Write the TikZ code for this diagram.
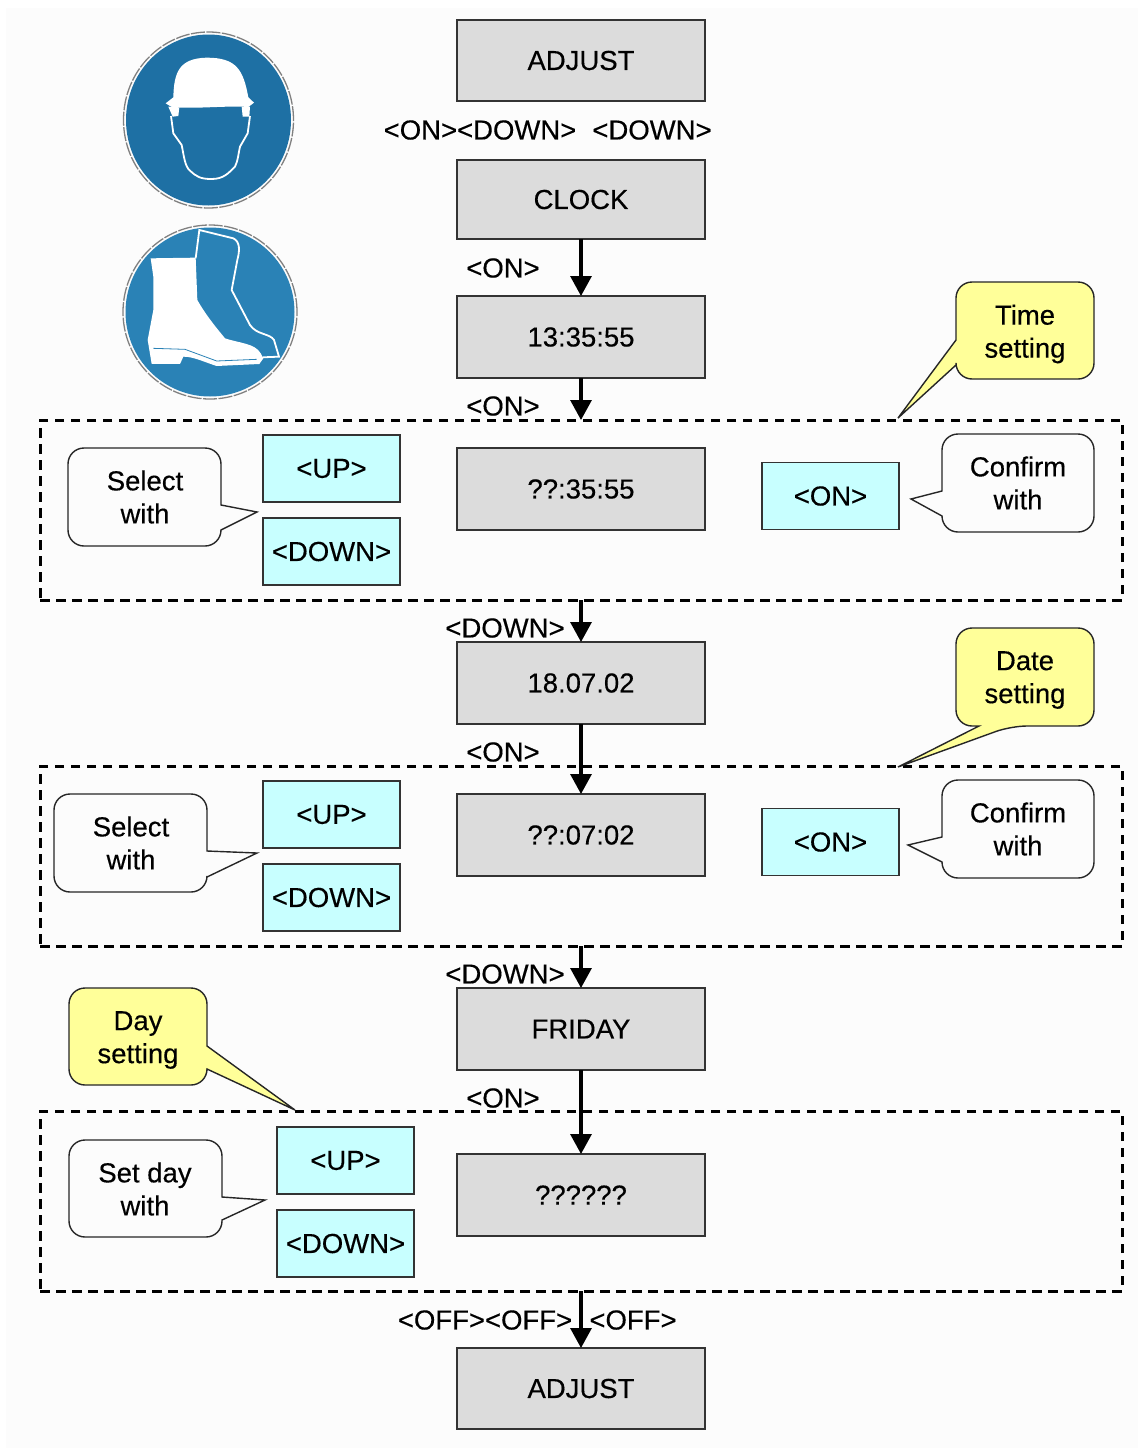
\documentclass[tikz,border=0pt]{standalone}
\usepackage{fontspec}
\setmainfont{Liberation Sans}[FakeBold=0.35]
\usetikzlibrary{arrows.meta}
\definecolor{colorPanel}{HTML}{DCDCDC}
\definecolor{colorKey}{HTML}{C8FFFF}
\definecolor{colorNote}{HTML}{FFFF99}
\definecolor{colorHead}{HTML}{1E70A4}
\definecolor{colorFoot}{HTML}{2A82B6}
\definecolor{colorPage}{HTML}{FCFCFC}
\tikzset{
  every node/.style={font=\fontsize{27.5}{33}\selectfont, align=center, inner sep=0pt, outer sep=0pt},
  panel/.style={draw=black!80, fill=colorPanel, line width=1.6pt, minimum width=248pt},
  keybox/.style={draw=black!80, fill=colorKey, line width=1.5pt, minimum width=137pt, minimum height=67pt},
  zone/.style={draw=black, dash pattern=on 9.5pt off 6.5pt, line width=3pt, minimum width=1082pt, minimum height=180pt},
  bubble/.style={draw=black!85, line width=1.4pt, fill=colorPage},
  note/.style={draw=black!85, line width=1.4pt, fill=colorNote},
  flow/.style={->, line width=3.2pt, black},
  signring/.style={draw=black!50, line width=1.3pt, dash pattern=on 14pt off 1.5pt}
}
\begin{document}
\begin{tikzpicture}[x=1pt, y=-1pt, >={Triangle[length=20pt,width=21pt]}]
\useasboundingbox (0,0) rectangle (1138,1448);
\fill[colorPage] (6,8) rectangle (1138,1448);
% signs
\draw[signring] (208.5,120) ellipse (85pt and 88pt);
\fill[colorHead] (208.5,120) ellipse (82.5pt and 85.5pt);
\begin{scope}[shift={(100,10)}, x=1pt/3, y=-1pt/3]
\fill[white] (220,262) .. controls (222,190) and (235,145) .. (320,143) .. controls (410,143) and (430,180) .. (445,262) -- (462,278) -- (445,291) .. controls (380,286) and (280,298) .. (215,291) -- (197,280) -- cycle;
\fill[white] (205,290) -- (238,292) -- (235,318) -- (218,320) -- cycle (425,290) -- (450,290) -- (448,320) -- (428,320) -- cycle;
\draw[white, line width=1.8pt] (213,318) -- (220,370) -- (245,405) .. controls (252,440) and (255,470) .. (270,482) .. controls (290,500) and (300,507) .. (335,507) .. controls (370,507) and (385,490) .. (405,470) .. controls (415,450) and (415,430) .. (420,410) -- (443,370) -- (450,318);
\end{scope}
\draw[signring] (210,312) circle (87pt);
\fill[colorFoot] (210,312) circle (84.5pt);
\begin{scope}[shift={(100,10)}, x=1pt/3, y=-1pt/3]
\fill[white] (152,745) -- (287,743) -- (292,870) .. controls (320,920) and (355,960) .. (375,985) .. controls (420,1000) and (465,1000) .. (482,1030) -- (490,1045) -- (478,1062) -- (350,1068) .. controls (310,1055) and (280,1040) .. (250,1040) -- (240,1062) -- (155,1062) -- (143,990) -- (160,900) -- (160,800) -- cycle;
\draw[white, line width=1.8pt] (287,745) -- (298,660) -- (400,685) .. controls (420,695) and (420,720) .. (412,750) -- (395,840) -- (450,945) .. controls (470,975) and (510,970) .. (522,990) -- (537,1040) -- (488,1042);
\draw[colorFoot, line width=0.8pt] (160,1015) -- (255,1018) -- (350,1053) -- (470,1048);
\end{scope}
% panels
\node[panel, minimum height=81pt] (adjustA) at (581,60.5) {ADJUST};
\node[panel, minimum height=79pt] (clock) at (581,199.5) {CLOCK};
\node[panel, minimum height=82pt] (timeA) at (581,337) {13:35:55};
\node[panel, minimum height=82pt] (timeB) at (581,489) {??:35:55};
\node[panel, minimum height=82pt] (dateA) at (581,683) {18.07.02};
\node[panel, minimum height=82pt] (dateB) at (581,835) {??:07:02};
\node[panel, minimum height=82pt] (dayA) at (581,1029) {FRIDAY};
\node[panel, minimum height=82pt] (dayB) at (581,1195) {??????};
\node[panel, minimum height=81pt] (adjustB) at (581,1388.5) {ADJUST};
% dashed zones
\node[zone] (zoneTime) at (581,510) {};
\node[zone] (zoneDate) at (581,856) {};
\node[zone] (zoneDay) at (581,1201) {};
% keys
\node[keybox] (upA) at (331.5,468.5) {<UP>};
\node[keybox] (downA) at (331.5,551.5) {<DOWN>};
\node[keybox] (onA) at (830.5,496) {<ON>};
\node[keybox] (upB) at (331.5,814.5) {<UP>};
\node[keybox] (downB) at (331.5,897.5) {<DOWN>};
\node[keybox] (onB) at (830.5,842) {<ON>};
\node[keybox] (upC) at (345.5,1160.5) {<UP>};
\node[keybox] (downC) at (345.5,1243.5) {<DOWN>};
% callouts
\draw[note] (956,340) [rounded corners=16pt] -- (956,282) -- (1094,282) -- (1094,379) -- (956,379) [sharp corners] -- (956,365) -- (898,418) -- cycle;
\node (noteTime) at (1025,334) {Time\\setting};
\draw[note] (979,726) [rounded corners=16pt] -- (956,726) -- (956,628) -- (1094,628) -- (1094,726) -- (1011,726) [sharp corners] -- (898,767) -- cycle;
\node (noteDate) at (1025,680) {Date\\setting};
\draw[note] (207,1046) [rounded corners=16pt] -- (207,988) -- (69,988) -- (69,1085) -- (207,1085) [sharp corners] -- (207,1069) -- (295,1110) -- cycle;
\node (noteDay) at (138,1040) {Day\\setting};
\draw[bubble] (221,505) [rounded corners=16pt] -- (221,448) -- (68,448) -- (68,546) -- (221,546) [sharp corners] -- (221,530) -- (257,512) -- cycle;
\node (selectA) at (145,497) {Select\\with};
\draw[bubble] (207,851) [rounded corners=16pt] -- (207,794) -- (54,794) -- (54,892) -- (207,892) [sharp corners] -- (207,877) -- (257,853) -- cycle;
\node (selectB) at (131,843) {Select\\with};
\draw[bubble] (222,1197) [rounded corners=16pt] -- (222,1140) -- (69,1140) -- (69,1237) -- (222,1237) [sharp corners] -- (222,1220) -- (265,1200) -- cycle;
\node (setDay) at (145,1189) {Set day\\with};
\draw[bubble] (942,491) [rounded corners=16pt] -- (942,434) -- (1094,434) -- (1094,532) -- (942,532) [sharp corners] -- (942,516) -- (911,499) -- cycle;
\node (confirmA) at (1018,483) {Confirm\\with};
\draw[bubble] (942,837) [rounded corners=16pt] -- (942,780) -- (1094,780) -- (1094,878) -- (942,878) [sharp corners] -- (942,862) -- (908,845) -- cycle;
\node (confirmB) at (1018,829) {Confirm\\with};
% flow
\draw[flow] (clock) -- (timeA);
\draw[flow] (timeA) -- (zoneTime);
\draw[flow] (zoneTime) -- (dateA);
\draw[flow] (dateA) -- (dateB);
\draw[flow] (zoneDate) -- (dayA);
\draw[flow] (dayA) -- (dayB);
\draw[flow] (zoneDay) -- (adjustB);
% key labels
\node (lblTop) at (480,130) {<ON><DOWN>};
\node (lblTopR) at (652,130) {<DOWN>};
\node (lblOnA) at (503,268) {<ON>};
\node (lblOnB) at (503,406) {<ON>};
\node (lblDownA) at (505,628) {<DOWN>};
\node (lblOnC) at (503,752) {<ON>};
\node (lblDownB) at (505,974) {<DOWN>};
\node (lblOnD) at (503,1098) {<ON>};
\node (lblOff) at (485,1320) {<OFF><OFF>};
\node (lblOffR) at (633,1320) {<OFF>};
\end{tikzpicture}
\end{document}
